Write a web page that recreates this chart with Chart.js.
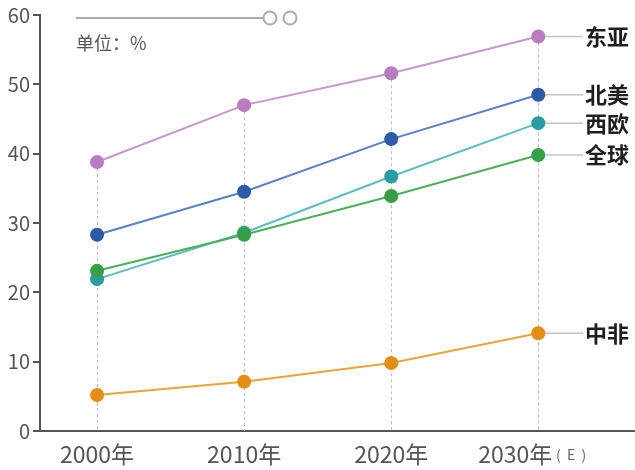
<!DOCTYPE html>
<html><head><meta charset="utf-8">
<script src="https://cdn.jsdelivr.net/npm/chart.js@4"></script>
<style>html,body{margin:0;padding:0;background:#fff}#wrap{width:635px;height:470px;position:relative}</style>
</head><body><div id="wrap"><canvas id="c" width="635" height="470"></canvas></div>
<script>
const years = [2000, 2010, 2020, 2030];
const yTicks = [0, 10, 20, 30, 40, 50, 60];
const seriesNames = ['中非', '全球', '西欧', '北美', '东亚'];
const zhongfei = [5.2, 7.1, 9.8, 14.1];
const quanqiu = [23.1, 28.3, 33.9, 39.8];
const xiou = [21.9, 28.6, 36.7, 44.4];
const beimei = [28.3, 34.5, 42.1, 48.5];
const dongya = [38.8, 47.0, 51.6, 56.9];
const unitText = '单位：%';
const estText = '(  E  )';

const values = [zhongfei, quanqiu, xiou, beimei, dongya];
const lineColors = ['#eda23a', '#4daf5a', '#5cbdc0', '#5a80c6', '#c895cf'];
const pointColors = ['#e38f14', '#35a045', '#2a9ca3', '#2c5ba8', '#b87cc0'];
const FONT = "'Noto Sans CJK SC', 'Noto Sans', sans-serif";

const datasets = values.map((v, i) => ({
  label: seriesNames[i],
  data: v.map((y, j) => ({x: years[j], y: y})),
  borderColor: lineColors[i],
  backgroundColor: pointColors[i],
  pointBackgroundColor: pointColors[i],
  pointBorderColor: pointColors[i],
  borderWidth: 2,
  pointRadius: 7,
  pointBorderWidth: 0,
  tension: 0
}));

const decor = {
  id: 'decor',
  beforeDatasetsDraw(chart) {
    const ctx = chart.ctx, xs = chart.scales.x, ys = chart.scales.y;
    ctx.save();
    ctx.strokeStyle = '#bdbdbd'; ctx.lineWidth = 1; ctx.setLineDash([3, 3]);
    years.forEach((yr, j) => {
      const maxV = Math.max(...values.map(v => v[j]));
      const px = Math.round(xs.getPixelForValue(yr)) + 0.5;
      ctx.beginPath(); ctx.moveTo(px, ys.getPixelForValue(maxV)); ctx.lineTo(px, ys.getPixelForValue(0)); ctx.stroke();
    });
    ctx.setLineDash([]);
    ctx.strokeStyle = '#c4c4c4'; ctx.lineWidth = 1.5;
    const last = years.length - 1;
    values.forEach(v => {
      const py = ys.getPixelForValue(v[last]);
      ctx.beginPath(); ctx.moveTo(xs.getPixelForValue(years[last]), py); ctx.lineTo(583, py); ctx.stroke();
    });
    // extend x axis line to the right edge
    ctx.strokeStyle = '#555'; ctx.lineWidth = 2;
    const by = ys.getPixelForValue(0);
    ctx.beginPath(); ctx.moveTo(chart.chartArea.right - 1, by); ctx.lineTo(chart.width, by); ctx.stroke();
    ctx.restore();
  },
  afterDraw(chart) {
    const ctx = chart.ctx, xs = chart.scales.x, ys = chart.scales.y;
    ctx.save();
    const last = years.length - 1;
    ctx.fillStyle = '#1e1e1e'; ctx.font = "bold 22px " + FONT; ctx.textBaseline = 'middle'; ctx.textAlign = 'left';
    values.forEach((v, i) => {
      ctx.fillText(seriesNames[i], 585, ys.getPixelForValue(v[last]));
    });
    ctx.strokeStyle = '#aaaaaa'; ctx.lineWidth = 2;
    ctx.beginPath(); ctx.moveTo(76, 18); ctx.lineTo(263, 18); ctx.stroke();
    [270, 290].forEach(cx => {
      ctx.beginPath(); ctx.arc(cx, 18, 6.5, 0, Math.PI * 2); ctx.fillStyle = '#fff'; ctx.fill(); ctx.stroke();
    });
    ctx.fillStyle = '#555'; ctx.font = "18px " + FONT; ctx.textBaseline = 'middle';
    ctx.fillText(unitText, 76, 43);
    ctx.font = "14px " + FONT; ctx.fillStyle = '#666';
    ctx.textAlign = 'left';
    ctx.fillText(estText, 556, 455);
    ctx.restore();
  }
};

new Chart(document.getElementById('c'), {
  type: 'line',
  data: {datasets},
  plugins: [decor],
  options: {
    responsive: false, animation: false,
    layout: {padding: {top: 5, right: 0, left: 0, bottom: 0}},
    plugins: {legend: {display: false}, tooltip: {enabled: false}},
    scales: {
      x: {
        type: 'linear', min: 1996.12, max: 2036.1,
        afterBuildTicks: s => { s.ticks = years.map(v => ({value: v})); },
        afterFit: s => { s.height = 39; },
        grid: {display: false},
        border: {display: true, color: '#555', width: 2},
        ticks: {
          color: '#555', font: {family: FONT, size: 23}, padding: 1, maxRotation: 0, autoSkip: false,
          callback: v => v === 2030 ? v + '年\u3000\u3000' : v + '年'
        }
      },
      y: {
        min: 0, max: 60,
        afterBuildTicks: s => { s.ticks = yTicks.map(v => ({value: v})); },
        afterFit: s => { s.width = 40; },
        grid: {drawOnChartArea: false, drawTicks: true, tickLength: 7, color: '#555', lineWidth: 2},
        border: {display: true, color: '#555', width: 2},
        ticks: {color: '#555', font: {family: FONT, size: 20}, padding: 3}
      }
    }
  }
});
</script></body></html>
